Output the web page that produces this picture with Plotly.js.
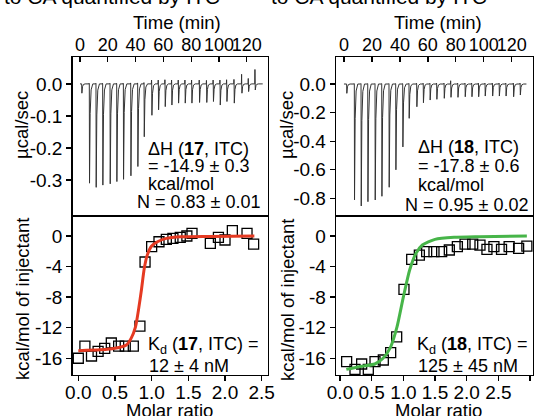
<!DOCTYPE html>
<html>
<head>
<meta charset="utf-8">
<script src="https://cdn.plot.ly/plotly-3.0.1.min.js"></script>
<style>html,body{margin:0;padding:0;background:#fff;}#chart{width:543px;height:416px;}</style>
</head>
<body>
<div id="chart"></div>
<script>
// ---------- Data ----------
// Raw thermogram, compound 17 (injection time in min, peak power in µcal/sec, small positive overshoot)
const injTime17 = [1.2, 6.7, 11.5, 16.3, 21.6, 26.4, 31.2, 36.5, 41.5, 46.1, 51.6, 56.4, 61.2, 66.0, 70.8, 75.6, 80.4, 85.9, 91.1, 95.9, 100.8, 105.6, 110.9, 116.4, 121.2, 126.0];
const peak17 = [-0.029, -0.31, -0.323, -0.316, -0.312, -0.305, -0.298, -0.287, -0.258, -0.165, -0.098, -0.081, -0.071, -0.066, -0.060, -0.060, -0.060, -0.058, -0.058, -0.055, -0.066, -0.055, -0.060, -0.029, -0.024, -0.019];
const up17 = [0.002, 0.002, 0.002, 0.002, 0.002, 0.002, 0.002, 0.003, 0.003, 0.004, 0.012, 0.012, 0.013, 0.012, 0.012, 0.012, 0.012, 0.012, 0.011, 0.012, 0.012, 0.013, 0.014, 0.030, 0.017, 0.045];
// Raw thermogram, compound 18
const injTime18 = [1.9, 7.4, 12.2, 17.0, 22.2, 27.0, 32.2, 37.0, 42.0, 46.5, 52.0, 56.7, 61.5, 66.3, 71.6, 76.4, 81.4, 86.6, 91.4, 96.2, 100.9, 106.2, 111.0, 115.8, 121.2, 126.0];
const peak18 = [-0.065, -0.81, -0.853, -0.823, -0.811, -0.785, -0.722, -0.600, -0.440, -0.240, -0.159, -0.131, -0.112, -0.107, -0.100, -0.093, -0.093, -0.089, -0.089, -0.089, -0.084, -0.084, -0.084, -0.084, -0.089, -0.077];
const up18 = [0.003, 0.003, 0.003, 0.003, 0.003, 0.003, 0.003, 0.003, 0.003, 0.004, 0.005, 0.005, 0.005, 0.006, 0.006, 0.023, 0.006, 0.006, 0.006, 0.006, 0.006, 0.006, 0.006, 0.006, 0.006, 0.006];

// Integrated heats, compound 17
const ratio17 = [0.0, 0.09, 0.18, 0.27, 0.36, 0.45, 0.55, 0.64, 0.75, 0.84, 0.91, 1.0, 1.10, 1.20, 1.29, 1.39, 1.48, 1.55, 1.80, 1.91, 2.0, 2.10, 2.30, 2.39];
const heat17 = [-16.0, -14.4, -15.7, -15.1, -14.7, -14.0, -14.4, -14.4, -14.4, -11.8, -3.4, -1.4, -0.75, -0.44, -0.31, -0.17, 0.0, 0.35, -0.96, -0.17, -0.52, 0.7, 0.35, -1.05];
const fitX17 = [0.0, 0.3, 0.5, 0.65, 0.72, 0.78, 0.82, 0.86, 0.90, 0.94, 1.0, 1.08, 1.2, 1.4, 1.8, 2.4];
const fitY17 = [-15.0, -14.9, -14.7, -14.3, -13.4, -11.9, -9.7, -7.1, -4.2, -2.5, -1.3, -0.75, -0.31, -0.1, -0.05, 0.0];

// Integrated heats, compound 18
const ratio18 = [0.105, 0.237, 0.342, 0.447, 0.553, 0.684, 0.80, 0.895, 1.01, 1.132, 1.253, 1.368, 1.484, 1.605, 1.726, 1.853, 1.974, 2.095, 2.21, 2.32, 2.43, 2.55, 2.67, 2.82, 2.95];
const heat18 = [-16.45, -17.45, -16.75, -17.45, -16.45, -16.23, -15.27, -13.2, -6.98, -3.05, -2.49, -2.05, -2.05, -2.05, -1.83, -1.40, -1.05, -1.05, -1.18, -1.74, -1.40, -1.74, -1.40, -1.61, -1.31];
const fitX18 = [0.1, 0.3, 0.55, 0.68, 0.8, 0.9, 1.0, 1.1, 1.2, 1.3, 1.5, 1.8, 2.2, 2.95];
const fitY18 = [-17.45, -17.1, -16.75, -16.0, -14.5, -11.9, -8.0, -4.45, -2.27, -1.18, -0.44, -0.17, -0.09, 0.0];

// Tick labels
const timeTicks = [0, 20, 40, 60, 80, 100, 120];
const timeLabels = ['0', '20', '40', '60', '80', '100', '120'];
const power17Ticks = [0, -0.1, -0.2, -0.3];
const power17Labels = ['0.0', '-0.1', '-0.2', '-0.3'];
const power18Ticks = [0, -0.2, -0.4, -0.6, -0.8];
const power18Labels = ['0.0', '-0.2', '-0.4', '-0.6', '-0.8'];
const heatTicks = [0, -4, -8, -12, -16];
const heatLabels = ['0', '-4', '-8', '-12', '-16'];
const ratio17Ticks = [0, 0.5, 1.0, 1.5, 2.0, 2.5];
const ratio17Labels = ['0.0', '0.5', '1.0', '1.5', '2.0', '2.5'];
const ratio18Ticks = [0, 0.5, 1.0, 1.5, 2.0, 2.5, 3.0];
const ratio18Labels = ['0.0', '0.5', '1.0', '1.5', '2.0', '2.5', '3.0'];

// ---------- Build ----------
function thermogram(times, peaks, ups, tStart, tEnd) {
  const xs = [tStart], ys = [0];
  for (let i = 0; i < times.length; i++) {
    const t = times[i], p = peaks[i];
    xs.push(t - 0.25, t - 0.1, t, t + 0.15, t + 0.6, t + 1.3, t + 2.5);
    ys.push(0, ups[i], 0, p, p * 0.3, p * 0.06, 0);
  }
  xs.push(tEnd); ys.push(0);
  return {xs, ys};
}
const th17 = thermogram(injTime17, peak17, up17, 0, 131.5);
const th18 = thermogram(injTime18, peak18, up18, 0, 130.5);

const FONT = 'Liberation Sans, Arial, Helvetica, sans-serif';
const W = 543, H = 416;
const px = v => v / W;
const py = v => 1 - v / H;

const traces = [
  {x: th17.xs, y: th17.ys, xaxis: 'x', yaxis: 'y', mode: 'lines', line: {color: '#333', width: 1}, hoverinfo: 'skip'},
  {x: ratio17, y: heat17, xaxis: 'x2', yaxis: 'y2', mode: 'markers', marker: {symbol: 'square-open', size: 10, color: '#000', line: {width: 1.3, color: '#000'}}},
  {x: fitX17, y: fitY17, xaxis: 'x2', yaxis: 'y2', mode: 'lines', line: {color: '#e53a22', width: 3, shape: 'spline', smoothing: 0.6}},
  {x: th18.xs, y: th18.ys, xaxis: 'x3', yaxis: 'y3', mode: 'lines', line: {color: '#333', width: 1}, hoverinfo: 'skip'},
  {x: ratio18, y: heat18, xaxis: 'x4', yaxis: 'y4', mode: 'markers', marker: {symbol: 'square-open', size: 10, color: '#000', line: {width: 1.3, color: '#000'}}},
  {x: fitX18, y: fitY18, xaxis: 'x4', yaxis: 'y4', mode: 'lines', line: {color: '#47b549', width: 3, shape: 'spline', smoothing: 0.6}}
];

function axis(domain, range, anchor, vals, labels, extra) {
  return Object.assign({
    domain: domain, range: range, anchor: anchor,
    showline: true, mirror: true, linecolor: '#000', linewidth: 1.3,
    showgrid: false, zeroline: false,
    ticks: 'outside', ticklen: 5, tickwidth: 1.3, tickcolor: '#000',
    tickmode: 'array', tickvals: vals, ticktext: labels, tickangle: 0,
    tickfont: {family: FONT, size: 19, color: '#000'},
    fixedrange: true
  }, extra || {});
}

const xL = [px(72.5), px(268)], xR = [px(336), px(533)];
const yTop = [py(216), py(57)], yBot = [py(375), py(216)];
const timeFont = {family: FONT, size: 18, color: '#000'};

const layout = {
  width: W, height: H,
  margin: {l: 0, r: 0, t: 0, b: 0, pad: 0},
  paper_bgcolor: '#fff', plot_bgcolor: '#fff',
  showlegend: false,
  font: {family: FONT, color: '#000'},
  xaxis: axis(xL, [-5.4, 135.3], 'y', timeTicks, timeLabels, {side: 'top', ticks: 'inside', ticklabelstandoff: -2, tickfont: timeFont}),
  yaxis: axis(yTop, [-0.4125, 0.084], 'x', power17Ticks, power17Labels),
  xaxis2: axis(xL, [-0.079, 2.586], 'y2', ratio17Ticks, ratio17Labels, {ticklabelstandoff: -5}),
  yaxis2: axis(yBot, [-18.19, 2.62], 'x2', heatTicks, heatLabels),
  xaxis3: axis(xR, [-5.7, 135.2], 'y3', timeTicks, timeLabels, {side: 'top', ticks: 'inside', ticklabelstandoff: -2, tickfont: timeFont}),
  yaxis3: axis(yTop, [-0.923, 0.189], 'x3', power18Ticks, power18Labels),
  xaxis4: axis(xR, [-0.063, 3.047], 'y4', ratio18Ticks, ratio18Labels, {ticklabelstandoff: -5}),
  yaxis4: axis(yBot, [-18.19, 2.62], 'x4', heatTicks, heatLabels),
  annotations: []
};

function ann(text, x, y, opts) {
  layout.annotations.push(Object.assign({
    text: text, xref: 'paper', yref: 'paper', x: px(x), y: py(y),
    xanchor: 'left', yanchor: 'middle', showarrow: false,
    font: {family: FONT, size: 18, color: '#000'}
  }, opts || {}));
}

// Cut-off headline
ann('to CA quantified by ITC', 2, -3, {font: {family: FONT, size: 21, color: '#000'}});
ann('to CA quantified by ITC', 269, -3, {font: {family: FONT, size: 21, color: '#000'}});
// Axis titles
ann('Time (min)', 177, 22, {xanchor: 'center', font: {family: FONT, size: 18.5, color: '#000'}});
ann('Time (min)', 438, 22, {xanchor: 'center', font: {family: FONT, size: 18.5, color: '#000'}});
ann('Molar ratio', 169, 410, {xanchor: 'center', font: {family: FONT, size: 18.5, color: '#000'}});
ann('Molar ratio', 438, 410, {xanchor: 'center', font: {family: FONT, size: 18.5, color: '#000'}});
ann('µcal/sec', 22, 125, {xanchor: 'center', textangle: -90, font: {family: FONT, size: 18.5, color: '#000'}});
ann('µcal/sec', 287, 125, {xanchor: 'center', textangle: -90, font: {family: FONT, size: 18.5, color: '#000'}});
ann('kcal/mol of injectant', 22, 299, {xanchor: 'center', textangle: -90, font: {family: FONT, size: 18.5, color: '#000'}});
ann('kcal/mol of injectant', 287, 300, {xanchor: 'center', textangle: -90, font: {family: FONT, size: 18.5, color: '#000'}});
// Inset texts, compound 17
ann('ΔH (<b>17</b>, ITC)', 146, 149);
ann('= -14.9 ± 0.3', 146, 166);
ann('kcal/mol', 146, 184);
ann('N = 0.83 ± 0.01', 135, 202);
ann('K<sub>d</sub> (<b>17</b>, ITC) =', 146, 345);
ann('12 ± 4 nM', 147, 366);
// Inset texts, compound 18
ann('ΔH (<b>18</b>, ITC)', 416, 147);
ann('= -17.8 ± 0.6', 416, 166);
ann('kcal/mol', 416, 185);
ann('N = 0.95 ± 0.02', 403, 205);
ann('K<sub>d</sub> (<b>18</b>, ITC) =', 415, 345);
ann('125 ± 45 nM', 416, 366);

Plotly.newPlot('chart', traces, layout, {staticPlot: true, displayModeBar: false});
</script>
</body>
</html>
